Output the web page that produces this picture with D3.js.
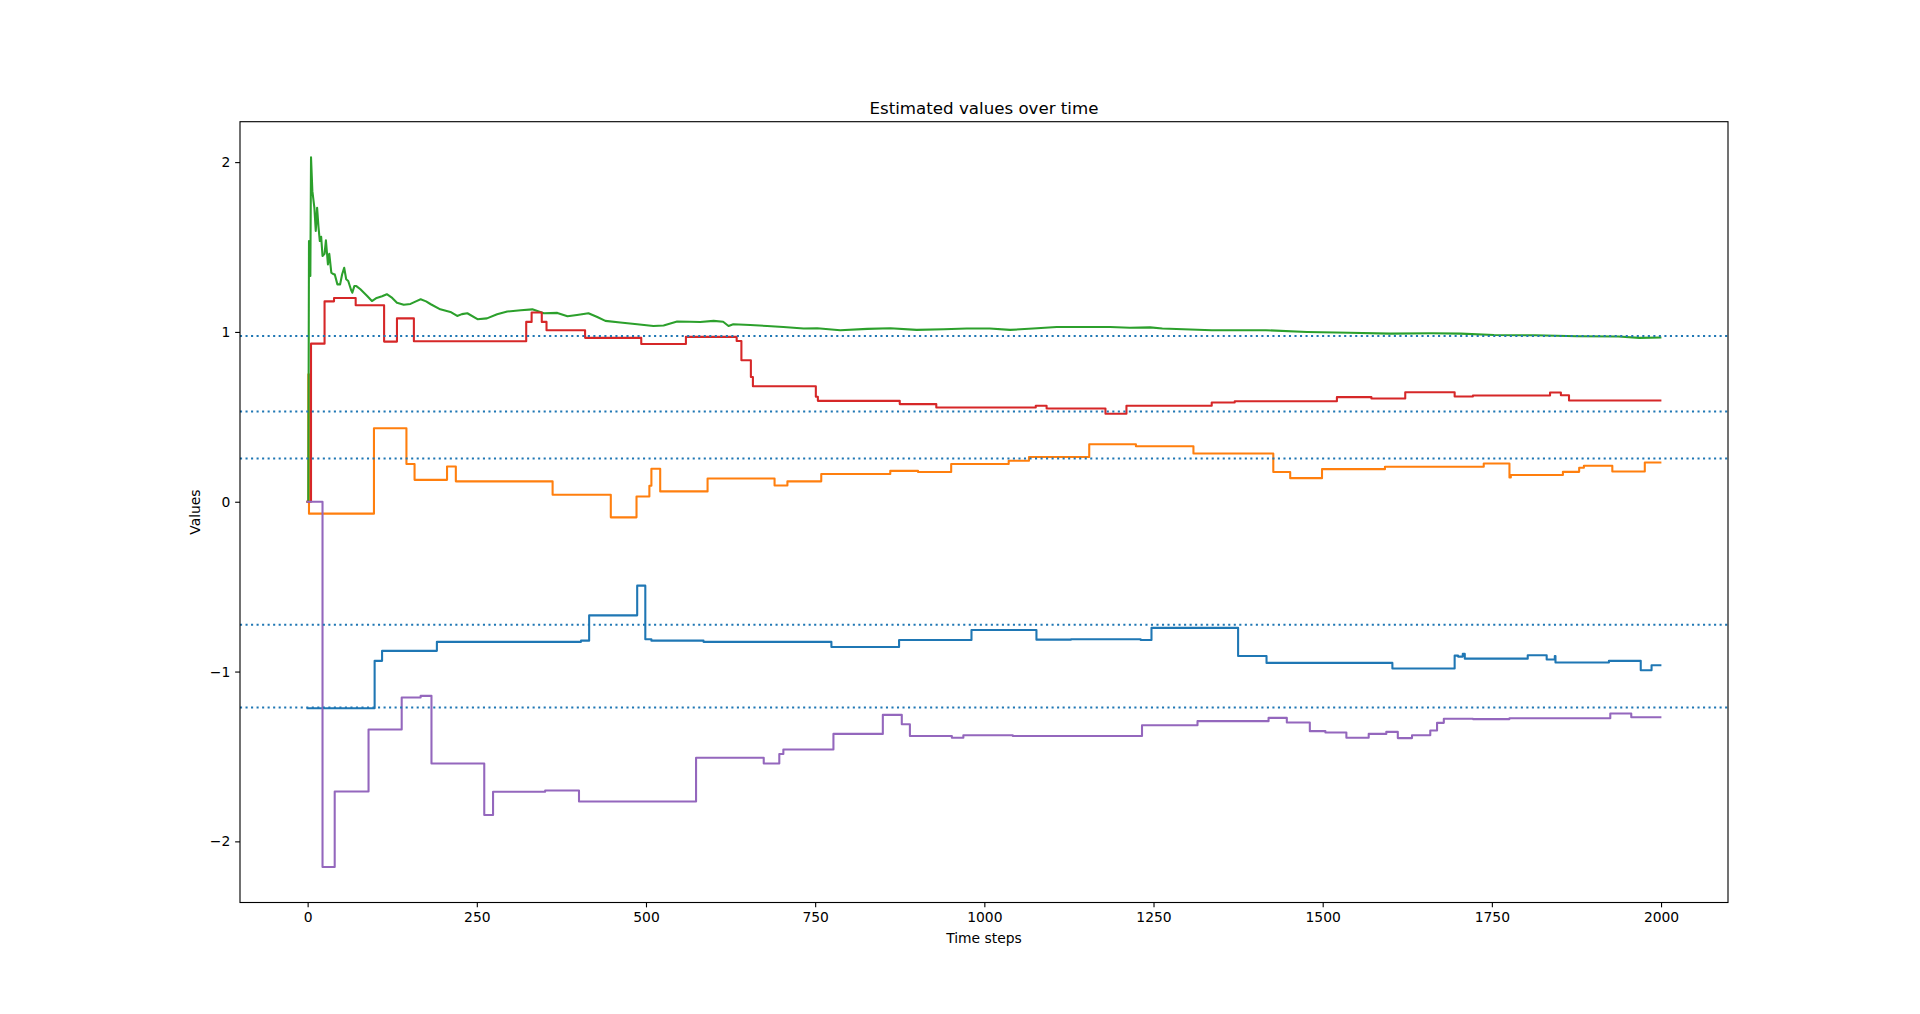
<!DOCTYPE html>
<html>
<head>
<meta charset="utf-8">
<script src="https://cdn.jsdelivr.net/npm/d3@7"></script>
<style>
  html, body { margin: 0; padding: 0; background: #fff; }
  svg { display: block; }
  text { font-family: "DejaVu Sans", sans-serif; fill: #000; }
</style>
</head>
<body>
<svg id="chart" width="1920" height="1014"></svg>
<script>
// ---------------- DATA ----------------
const chartTitle = "Estimated values over time";
const xLabel = "Time steps";
const yLabel = "Values";
const xTicks = [0, 250, 500, 750, 1000, 1250, 1500, 1750, 2000];
const yTicks = [-2, -1, 0, 1, 2];
const lastStep = 1999;

// reference (true) values drawn as dotted horizontal lines
const trueValues = [0.976, 0.531, 0.255, -0.724, -1.212];

// series 1 (blue): change points and values
const blueT = [0, 99, 110, 191, 404, 416, 487, 499, 508, 585, 774, 874, 981, 1077, 1128, 1231, 1247, 1375, 1417, 1603, 1695, 1700, 1707, 1710, 1803, 1831, 1843, 1844, 1923, 1970, 1986];
const blueV = [-1.216, -0.937, -0.878, -0.825, -0.818, -0.669, -0.494, -0.810, -0.818, -0.825, -0.855, -0.814, -0.755, -0.812, -0.810, -0.814, -0.743, -0.908, -0.949, -0.982, -0.906, -0.912, -0.896, -0.924, -0.904, -0.929, -0.908, -0.947, -0.937, -0.992, -0.963];

// series 2 (orange)
const orangeT = [0, 1, 2, 98, 146, 158, 206, 219, 362, 448, 486, 505, 508, 521, 591, 690, 709, 759, 861, 902, 951, 1036, 1066, 1155, 1224, 1309, 1427, 1452, 1499, 1592, 1738, 1776, 1778, 1855, 1879, 1886, 1928, 1976];
const orangeV = [0, 0.75, -0.070, 0.433, 0.222, 0.129, 0.208, 0.120, 0.041, -0.092, 0.031, 0.094, 0.194, 0.061, 0.137, 0.096, 0.120, 0.163, 0.182, 0.175, 0.222, 0.241, 0.263, 0.339, 0.327, 0.284, 0.175, 0.139, 0.192, 0.206, 0.225, 0.143, 0.157, 0.176, 0.200, 0.212, 0.178, 0.231];

// series 3 (green): sampled points of the running estimate
const greenT = [0, 1, 2, 4, 5, 7, 10, 12, 14, 16, 18, 20, 22, 25, 27, 30, 32, 35, 38, 40, 44, 48, 51, 54, 57, 60, 64, 66, 69, 72, 78, 88, 95, 102, 110, 117, 125, 132, 142, 152, 160, 167, 175, 182, 196, 211, 221, 228, 236, 251, 265, 280, 295, 315, 332, 349, 369, 384, 398, 415, 428, 440, 462, 487, 511, 526, 546, 565, 580, 600, 614, 622, 629, 654, 679, 703, 733, 753, 787, 827, 861, 900, 940, 974, 1008, 1038, 1072, 1107, 1146, 1186, 1215, 1245, 1263, 1336, 1416, 1477, 1539, 1600, 1661, 1704, 1753, 1814, 1876, 1937, 1968, 1999];
const greenV = [0, 0, 1.535, 1.33, 2.029, 1.829, 1.73, 1.594, 1.731, 1.62, 1.535, 1.56, 1.447, 1.46, 1.539, 1.398, 1.46, 1.349, 1.34, 1.34, 1.28, 1.28, 1.34, 1.378, 1.31, 1.30, 1.25, 1.231, 1.27, 1.27, 1.251, 1.212, 1.182, 1.20, 1.21, 1.222, 1.20, 1.172, 1.16, 1.165, 1.18, 1.192, 1.18, 1.163, 1.133, 1.118, 1.094, 1.105, 1.110, 1.075, 1.080, 1.104, 1.120, 1.128, 1.133, 1.110, 1.112, 1.092, 1.100, 1.110, 1.088, 1.065, 1.055, 1.045, 1.035, 1.038, 1.061, 1.060, 1.058, 1.065, 1.060, 1.035, 1.045, 1.041, 1.035, 1.029, 1.020, 1.022, 1.010, 1.018, 1.022, 1.012, 1.016, 1.020, 1.020, 1.012, 1.020, 1.029, 1.029, 1.029, 1.025, 1.027, 1.020, 1.010, 1.010, 1.000, 0.995, 0.990, 0.992, 0.990, 0.982, 0.980, 0.975, 0.973, 0.965, 0.967];

// series 4 (red)
const redT = [0, 5, 25, 39, 71, 113, 132, 157, 323, 331, 346, 353, 410, 493, 559, 634, 641, 655, 658, 751, 754, 875, 929, 1076, 1092, 1179, 1210, 1336, 1370, 1521, 1572, 1622, 1695, 1722, 1836, 1852, 1864];
const redV = [0, 0.931, 1.180, 1.200, 1.157, 0.943, 1.080, 0.945, 1.059, 1.114, 1.059, 1.010, 0.965, 0.929, 0.971, 0.947, 0.833, 0.735, 0.680, 0.618, 0.594, 0.575, 0.555, 0.565, 0.549, 0.518, 0.565, 0.584, 0.592, 0.616, 0.608, 0.645, 0.620, 0.626, 0.643, 0.627, 0.596];

// series 5 (purple)
const purpleT = [0, 22, 40, 90, 139, 167, 183, 261, 274, 351, 401, 574, 674, 697, 703, 777, 850, 878, 890, 952, 969, 1042, 1233, 1315, 1420, 1447, 1481, 1504, 1535, 1568, 1594, 1611, 1632, 1659, 1669, 1679, 1722, 1776, 1925, 1956];
const purpleV = [0, -2.151, -1.706, -1.341, -1.153, -1.143, -1.541, -1.845, -1.708, -1.700, -1.765, -1.508, -1.541, -1.486, -1.459, -1.367, -1.255, -1.310, -1.380, -1.390, -1.375, -1.380, -1.316, -1.292, -1.273, -1.300, -1.351, -1.359, -1.390, -1.367, -1.355, -1.392, -1.375, -1.347, -1.302, -1.278, -1.280, -1.275, -1.247, -1.269];

// ---------------- DRAWING ----------------
const W = 1920, H = 1014;
const L = 240, R = 1728, T = 121.7, B = 902.5;
const pt = 100 / 72;

const toPts = (ts, vs) => ts.map((t, i) => ({ t: t, v: vs[i] }));
const series = [
  { pts: toPts(blueT, blueV), color: "#1f77b4", step: true },
  { pts: toPts(orangeT, orangeV), color: "#ff7f0e", step: true },
  { pts: toPts(greenT, greenV), color: "#2ca02c", step: false },
  { pts: toPts(redT, redV), color: "#d62728", step: true },
  { pts: toPts(purpleT, purpleV), color: "#9467bd", step: true }
];
series.forEach(s => {
  const last = s.pts[s.pts.length - 1];
  if (last.t < lastStep) s.pts.push({ t: lastStep, v: last.v });
});

// matplotlib-like 5% margins
const allV = series.flatMap(s => s.pts.map(p => p.v));
const yMin = d3.min(allV), yMax = d3.max(allV);
const yPad = (yMax - yMin) * 0.05;
const xPad = lastStep * 0.05;

const x = d3.scaleLinear().domain([0 - xPad, lastStep + xPad]).range([L, R]);
const y = d3.scaleLinear().domain([yMin - yPad, yMax + yPad]).range([B, T]);

const svg = d3.select("#chart");
svg.append("rect").attr("width", W).attr("height", H).attr("fill", "#fff");

svg.append("defs").append("clipPath").attr("id", "clip")
  .append("rect").attr("x", L).attr("y", T).attr("width", R - L).attr("height", B - T);

const plot = svg.append("g").attr("clip-path", "url(#clip)");

series.forEach(s => {
  const line = d3.line()
    .x(d => x(d.t))
    .y(d => y(d.v))
    .curve(s.step ? d3.curveStepAfter : d3.curveLinear);
  plot.append("path")
    .datum(s.pts)
    .attr("d", line)
    .attr("fill", "none")
    .attr("stroke", s.color)
    .attr("stroke-width", 1.5 * pt)
    .attr("stroke-linejoin", "round")
    .attr("stroke-linecap", "square");
});

trueValues.forEach(v => {
  plot.append("line")
    .attr("x1", L).attr("x2", R)
    .attr("y1", y(v)).attr("y2", y(v))
    .attr("stroke", "#1f77b4")
    .attr("stroke-width", 1.5 * pt)
    .attr("stroke-dasharray", `${1.5 * pt} ${2.475 * pt}`)
    .attr("stroke-linecap", "butt");
});

// axes
const fontPx = 10 * pt;
const xAxis = d3.axisBottom(x).tickValues(xTicks).tickFormat(d3.format("d"))
  .tickSize(3.5 * pt).tickPadding(3.5 * pt);
const yAxis = d3.axisLeft(y).tickValues(yTicks).tickFormat(d => d < 0 ? "\u2212" + Math.abs(d) : d)
  .tickSize(3.5 * pt).tickPadding(3.5 * pt);

const gx = svg.append("g").attr("transform", `translate(0,${B})`).call(xAxis);
const gy = svg.append("g").attr("transform", `translate(${L},0)`).call(yAxis);
[gx, gy].forEach(g => {
  g.select(".domain").remove();
  g.selectAll(".tick line").attr("stroke", "#000").attr("stroke-width", 0.8 * pt);
  g.selectAll(".tick text")
    .attr("font-family", "DejaVu Sans, sans-serif")
    .attr("font-size", fontPx)
    .attr("fill", "#000");
});

// frame
svg.append("rect")
  .attr("x", L).attr("y", T).attr("width", R - L).attr("height", B - T)
  .attr("fill", "none").attr("stroke", "#000").attr("stroke-width", 0.8 * pt)
  .attr("stroke-linejoin", "miter");

// labels
svg.append("text")
  .attr("x", (L + R) / 2).attr("y", 113.5)
  .attr("text-anchor", "middle")
  .attr("font-size", 12 * pt)
  .text(chartTitle);

svg.append("text")
  .attr("x", (L + R) / 2).attr("y", 942.5)
  .attr("text-anchor", "middle")
  .attr("font-size", fontPx)
  .text(xLabel);

svg.append("text")
  .attr("transform", `translate(200,${(T + B) / 2}) rotate(-90)`)
  .attr("text-anchor", "middle")
  .attr("font-size", fontPx)
  .text(yLabel);
</script>
</body>
</html>
